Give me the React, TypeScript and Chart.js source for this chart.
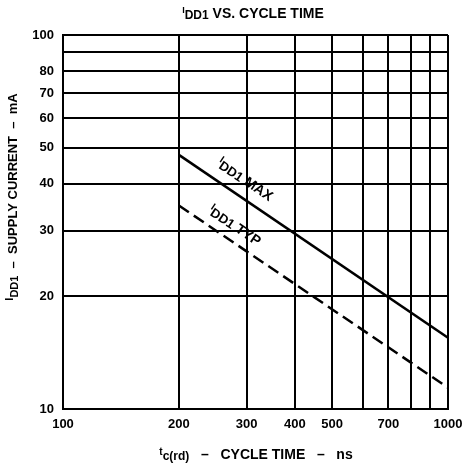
import React, { useEffect, useRef } from "react";
import { Chart, registerables } from "chart.js";

Chart.register(...registerables);

// ---- data ----
const cycleTimesNs = [200, 1000];
const iddMaxMa = [47.8, 15.5];
const iddTypMa = [35.0, 11.4];
const xGridValues = [100, 200, 300, 400, 500, 600, 700, 800, 900, 1000];
const yGridValues = [10, 20, 30, 40, 50, 60, 70, 80, 90, 100];
const xTickLabels = [100, 200, 300, 400, 500, 700, 1000];
const yTickLabels = [10, 20, 30, 40, 50, 60, 70, 80, 100];
const xRange = [100, 1000];
const yRange = [10, 100];
const maxLabelAt = 281; // ns, where the "IDD1 MAX" label sits along the line
const typLabelAt = 266; // ns, where the "IDD1 TYP" label sits along the line

const FONT = '"Liberation Sans", Arial, sans-serif';

type Part = { text: string; size: number; dy: number };

function drawRich(ctx: CanvasRenderingContext2D, parts: Part[], cx: number, cy: number, angle: number) {
  ctx.save();
  ctx.translate(cx, cy);
  ctx.rotate(angle);
  ctx.fillStyle = "#000";
  ctx.textBaseline = "middle";
  ctx.textAlign = "left";
  const widths = parts.map((p) => {
    ctx.font = `bold ${p.size}px ${FONT}`;
    return ctx.measureText(p.text).width;
  });
  const total = widths.reduce((a, b) => a + b, 0);
  let x = -total / 2;
  parts.forEach((p, i) => {
    ctx.font = `bold ${p.size}px ${FONT}`;
    ctx.fillText(p.text, x, p.dy);
    x += widths[i];
  });
  ctx.restore();
}

const textPlugin = {
  id: "textPlugin",
  afterDatasetsDraw(chart: any) {
    const ctx: CanvasRenderingContext2D = chart.ctx;
    const xs = chart.scales.x;
    const ys = chart.scales.y;

    // titles
    drawRich(
      ctx,
      [
        { text: "I", size: 9, dy: -3 },
        { text: "DD1", size: 12, dy: 2 },
        { text: " VS. CYCLE TIME", size: 14, dy: 0 },
      ],
      253,
      14,
      0
    );
    drawRich(
      ctx,
      [
        { text: "I", size: 11, dy: -3 },
        { text: "DD1", size: 11, dy: 2 },
        { text: "  –  SUPPLY CURRENT  –  mA", size: 13, dy: 0 },
      ],
      13,
      197,
      -Math.PI / 2
    );
    drawRich(
      ctx,
      [
        { text: "t", size: 10, dy: -3 },
        { text: "c(rd)", size: 12, dy: 2 },
        { text: "   –   CYCLE TIME   –   ns", size: 14, dy: 0 },
      ],
      256,
      455,
      0
    );

    // line labels
    const lineLabel = (xsData: number[], ysData: number[], at: number, parts: Part[], off: number) => {
      const x0 = xs.getPixelForValue(xsData[0]);
      const y0 = ys.getPixelForValue(ysData[0]);
      const x1 = xs.getPixelForValue(xsData[1]);
      const y1 = ys.getPixelForValue(ysData[1]);
      const ang = Math.atan2(y1 - y0, x1 - x0);
      const px = xs.getPixelForValue(at);
      const py = y0 + ((px - x0) * (y1 - y0)) / (x1 - x0);
      const nx = Math.sin(ang);
      const ny = -Math.cos(ang);
      drawRich(ctx, parts, px + nx * off, py + ny * off, ang);
    };
    lineLabel(
      cycleTimesNs,
      iddMaxMa,
      maxLabelAt,
      [
        { text: "I", size: 10, dy: -4 },
        { text: "DD1", size: 13, dy: 1 },
        { text: " MAX", size: 14, dy: 0 },
      ],
      16
    );
    lineLabel(
      cycleTimesNs,
      iddTypMa,
      typLabelAt,
      [
        { text: "I", size: 10, dy: -4 },
        { text: "DD1", size: 13, dy: 1 },
        { text: " TYP", size: 14, dy: 0 },
      ],
      14
    );
  },
};

export default function App() {
  const ref = useRef<HTMLCanvasElement | null>(null);
  useEffect(() => {
    if (!ref.current) return;
    const tickFont = { family: FONT, weight: "bold" as const, size: 13 };
    const chart = new Chart(ref.current, {
      type: "line",
      data: {
        datasets: [
          {
            label: "IDD1 MAX",
            data: cycleTimesNs.map((x, i) => ({ x, y: iddMaxMa[i] })),
            borderColor: "#000",
            borderWidth: 2.5,
            pointRadius: 0,
            tension: 0,
          },
          {
            label: "IDD1 TYP",
            data: cycleTimesNs.map((x, i) => ({ x, y: iddTypMa[i] })),
            borderColor: "#000",
            borderWidth: 2.5,
            borderDash: [12, 6],
            pointRadius: 0,
            tension: 0,
          },
        ],
      },
      options: {
        responsive: false,
        animation: false,
        layout: { padding: { top: 35, right: 17, left: 0, bottom: 0 } },
        plugins: {
          legend: { display: false },
          tooltip: { enabled: false },
          title: { display: false },
        },
        scales: {
          x: {
            type: "logarithmic",
            min: xRange[0],
            max: xRange[1],
            afterBuildTicks: (s: any) => {
              s.ticks = xGridValues.map((v) => ({ value: v }));
            },
            grid: { color: "#000", lineWidth: 2, drawTicks: false },
            border: { display: true, color: "#000", width: 2 },
            ticks: {
              autoSkip: false,
              maxRotation: 0,
              minRotation: 0,
              padding: 8,
              color: "#000",
              font: tickFont,
              callback: (v: any) => (xTickLabels.includes(Math.round(Number(v))) ? String(Math.round(Number(v))) : ""),
            },
            afterFit: (s: any) => {
              s.height = 57;
              s.paddingLeft = 0;
              s.paddingRight = 0;
            },
          },
          y: {
            type: "logarithmic",
            min: yRange[0],
            max: yRange[1],
            afterBuildTicks: (s: any) => {
              s.ticks = yGridValues.map((v) => ({ value: v }));
            },
            grid: { color: "#000", lineWidth: 2, drawTicks: false },
            border: { display: true, color: "#000", width: 2 },
            ticks: {
              autoSkip: false,
              padding: 9,
              color: "#000",
              font: tickFont,
              callback: (v: any) => (yTickLabels.includes(Math.round(Number(v))) ? String(Math.round(Number(v))) : ""),
            },
            afterFit: (s: any) => {
              s.width = 63;
              s.paddingTop = 0;
              s.paddingBottom = 0;
            },
          },
        },
      },
      plugins: [textPlugin],
    });
    return () => chart.destroy();
  }, []);
  return (
    <div style={{ position: "absolute", left: 0, top: 0, width: 465, height: 466, background: "#fff" }}>
      <canvas ref={ref} width={465} height={466} style={{ display: "block" }} />
    </div>
  );
}
